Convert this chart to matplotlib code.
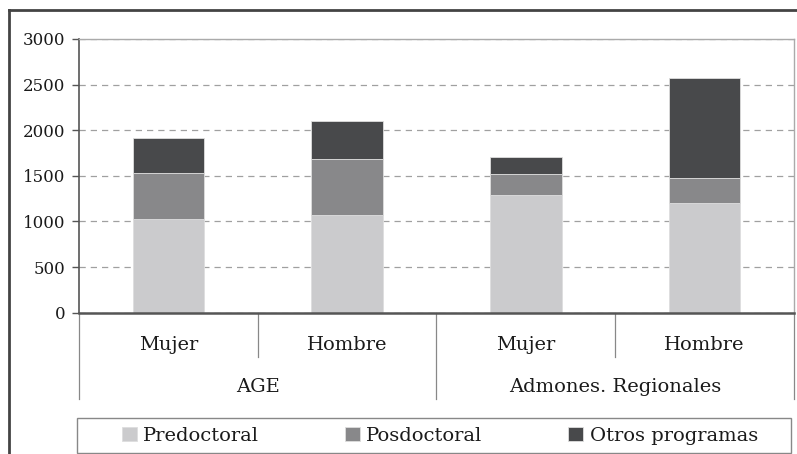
import matplotlib
matplotlib.use("Agg")
import matplotlib.pyplot as plt
from matplotlib.lines import Line2D
from matplotlib.patches import Rectangle

groups = ["AGE", "Admones. Regionales"]
sexes = ["Mujer", "Hombre", "Mujer", "Hombre"]
series = ["Predoctoral", "Posdoctoral", "Otros programas"]
predoctoral = [1030, 1075, 1290, 1205]
posdoctoral = [505, 610, 230, 270]
otros = [375, 415, 185, 1100]
colors = ["#cbcbcd", "#88888a", "#48494b"]

plt.rcParams["font.family"] = "DejaVu Serif"

W, H = 797, 454
fig = plt.figure(figsize=(W / 100, H / 100), dpi=100)

# plot area in pixel coords
x0, x1, ytop, ybot = 79, 794, 39, 312.7
ax = fig.add_axes([x0 / W, (H - ybot) / H, (x1 - x0) / W, (ybot - ytop) / H])

pos = list(range(len(sexes)))
bottom = [0] * len(pos)
for vals, name, c in zip([predoctoral, posdoctoral, otros], series, colors):
    ax.bar(pos, vals, width=0.40, bottom=bottom, color=c, label=name,
           edgecolor="#dedede", linewidth=0.6, zorder=3)
    bottom = [b + v for b, v in zip(bottom, vals)]

ax.set_xlim(-0.5, 3.5)
ax.set_ylim(0, 3000)
ax.set_yticks(range(0, 3001, 500))
ax.set_xticks([])
ax.tick_params(axis="y", length=5, width=1, color="#555555", pad=5,
               labelsize=12, labelcolor="#1a1a1a")
ax.yaxis.grid(True, linestyle=(0, (5, 4)), color="#a0a0a0", linewidth=0.9)
ax.set_axisbelow(True)

for s in ["top", "right"]:
    ax.spines[s].set_color("#aaaaaa")
    ax.spines[s].set_linewidth(1)
ax.spines["left"].set_color("#555555")
ax.spines["left"].set_linewidth(1.2)
ax.spines["bottom"].set_color("#555555")
ax.spines["bottom"].set_linewidth(1.8)
ax.spines["bottom"].set_zorder(4)

# category axis: separators and labels below the plot
trans = ax.get_xaxis_transform()
h_short = (ybot - 356.7) / (ybot - ytop)
h_long = (ybot - 399) / (ybot - ytop)
for i, xs in enumerate([-0.5, 0.5, 1.5, 2.5, 3.5]):
    yend = h_long if i % 2 == 0 else h_short
    ax.plot([xs, xs], [0, yend], transform=trans, color="#888888",
            linewidth=0.9, clip_on=False)

for i, s in enumerate(sexes):
    ax.text(i, (ybot - 345) / (ybot - ytop), s, transform=trans,
            ha="center", va="center", fontsize=14, color="#1a1a1a")
for j, g in enumerate(groups):
    ax.text(2 * j + 0.5, (ybot - 386.7) / (ybot - ytop), g, transform=trans,
            ha="center", va="center", fontsize=14, color="#1a1a1a")

# legend box
fig.patches.append(Rectangle((77 / W, (H - 453.3) / H), (791 - 77) / W, 35 / H,
                             transform=fig.transFigure, fill=False,
                             edgecolor="#888888", linewidth=1))
fig.legend(loc="center left", bbox_to_anchor=(122 / W, (H - 436) / H),
           ncol=3, frameon=False, fontsize=14, handlelength=0.75,
           handleheight=0.75, handletextpad=0.35, columnspacing=4.4,
           borderpad=0, borderaxespad=0, labelcolor="#1a1a1a")

# outer frame
fig.lines.append(Line2D([9 / W, 1], [(H - 10) / H] * 2, transform=fig.transFigure,
                        color="#444444", linewidth=2))
fig.lines.append(Line2D([9 / W, 9 / W], [0, (H - 10) / H], transform=fig.transFigure,
                        color="#444444", linewidth=2))

fig.savefig("out.png", dpi=100)
